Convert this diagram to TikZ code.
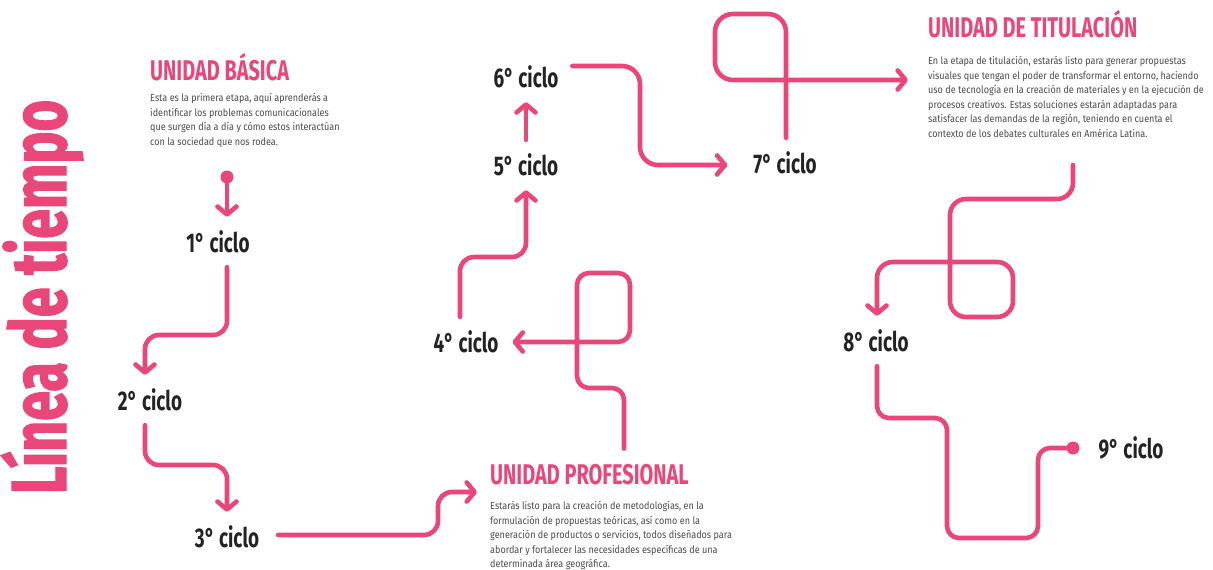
\documentclass[tikz,border=0pt]{standalone}
\usepackage{fontspec}
\setmainfont{Fira Sans}
\newfontfamily\condfont[FakeStretch=0.7]{Fira Sans}
\newfontfamily\titlefont[FakeStretch=0.69,FakeBold=1.5]{Fira Sans}
\newfontfamily\bodyfont[FakeStretch=0.88]{Fira Sans}
\usetikzlibrary{arrows.meta,positioning}
\definecolor{rosa}{RGB}{233,70,122}
\definecolor{tinta}{RGB}{35,35,35}
\definecolor{gris}{RGB}{75,75,75}
\tikzset{
    %Define standard arrow tip
    >={Straight Barb[length=8pt,width=19pt,round]},
    %Define style for the pink path
    flow/.style={
           draw=rosa,
           line width=4.6pt,
           line cap=round,
           rounded corners=14pt},
    %Define style for the cycle labels
    ciclo/.style={
           font=\condfont\bfseries\fontsize{27}{27}\selectfont,
           text=tinta,
           inner sep=0pt,
           outer sep=14pt},
    unidad/.style={
           font=\condfont\bfseries\fontsize{28.5}{28.5}\selectfont,
           text=rosa,
           inner sep=0pt,
           anchor=base west},
    texto/.style={
           font=\bodyfont\fontsize{10.3}{14.5}\selectfont,
           text=gris,
           inner sep=0pt,
           anchor=north west,
           align=left},
    punto/.style={
           circle,
           fill=rosa,
           inner sep=0pt,
           minimum size=13pt}
}
\begin{document}
\begin{tikzpicture}[x=1pt,y=-1pt]
\useasboundingbox (0,0) rectangle (1213,570);
\fill[white] (0,0) rectangle (1213,570);

 %title
\node[rotate=90, anchor=base, inner sep=0pt, text=rosa,
  font=\titlefont\bfseries\fontsize{78}{78}\selectfont] (titulo) at (66,297) {Línea de tiempo};

 %units
\node[unidad] (hBas) at (150,80) {UNIDAD BÁSICA};
\node[texto] (tBas) at (150,93.5) {Esta es la primera etapa, aquí aprenderás a\\
identificar los problemas comunicacionales\\
que surgen día a día y cómo estos interactúan\\
con la sociedad que nos rodea.};
\node[unidad] (hProf) at (490,484) {UNIDAD PROFESIONAL};
\node[texto] (tProf) at (490,501.5) {Estarás listo para la creación de metodologías, en la\\
formulación de propuestas teóricas, así como en la\\
generación de productos o servicios, todos diseñados para\\
abordar y fortalecer las necesidades específicas de una\\
determinada área geográfica.};
\node[unidad] (hTit) at (928,37) {UNIDAD DE TITULACIÓN};
\node[texto] (tTit) at (928,56.5) {En la etapa de titulación, estarás listo para generar propuestas\\
visuales que tengan el poder de transformar el entorno, haciendo\\
uso de tecnología en la creación de materiales y en la ejecución de\\
procesos creativos. Estas soluciones estarán adaptadas para\\
satisfacer las demandas de la región, teniendo en cuenta el\\
contexto de los debates culturales en América Latina.};

 %cycles
\node[ciclo] (c1) at (218,242) {1° ciclo};
\node[ciclo] (c2) at (150,400) {2° ciclo};
\node[ciclo] (c3) at (227,537) {3° ciclo};
\node[ciclo] (c4) at (466,342) {4° ciclo};
\node[ciclo] (c5) at (526,165) {5° ciclo};
\node[ciclo] (c6) at (526,77) {6° ciclo};
\node[ciclo] (c7) at (785,163) {7° ciclo};
\node[ciclo] (c8) at (876,341) {8° ciclo};
\node[ciclo] (c9) at (1131,448) {9° ciclo};
\node[punto] (inicio) at (227,177) {};
\node[punto] (fin) at (1073,448) {};
\coordinate (aTit) at (908,80);
\coordinate (deTit) at (1073,165);

 %path
\draw[flow,->] (inicio) -- (c1.north -| inicio);
\draw[flow,->] ([xshift=9pt]c1.south) -- (227,335) -- (145,335) -- ([xshift=-5pt]c2.north);
\draw[flow,->] ([xshift=-5pt]c2.south) -- (145,465) -- (227,465) -- (c3.north);
\draw[flow,->] ([xshift=5pt,yshift=2pt]c3.east) -- (438,535) -- (438,492) -- ([xshift=-13pt,yshift=-8pt]hProf.base west);
\draw[flow,->,rounded corners=12pt] ([xshift=134pt,yshift=15pt]hProf.north west) -- (624,388) -- (577,388)
    -- (577,273) -- (630,273) -- (630,342) -- (c4.east);
\draw[flow,->] ([xshift=-6pt]c4.north) -- (460,257) -- (526,257) -- (c5.south);
\draw[flow,->] (c5.north) -- (c6.south);
\draw[flow,->,rounded corners=18pt] ([yshift=11pt]c6.east) -- (640,66) -- (640,165) -- ([xshift=-12pt,yshift=-2pt]c7.west);
\draw[flow,->,rounded corners=18pt] ([xshift=1pt]c7.north) -- (786,14) -- (715,14) -- (715,80) -- (aTit);
\draw[flow,->,rounded corners=16pt] (deTit) -- (1073,199) -- (950,199) -- (950,317) -- (1013,317)
    -- (1013,262) -- (877,262) -- ([xshift=1pt]c8.north);
\draw[flow,rounded corners=12pt] ([xshift=1pt]c8.south) -- (877,418) -- (947,418) -- (947,538)
    -- (1038,538) -- (1038,448) -- (fin);
\end{tikzpicture}
\end{document}
